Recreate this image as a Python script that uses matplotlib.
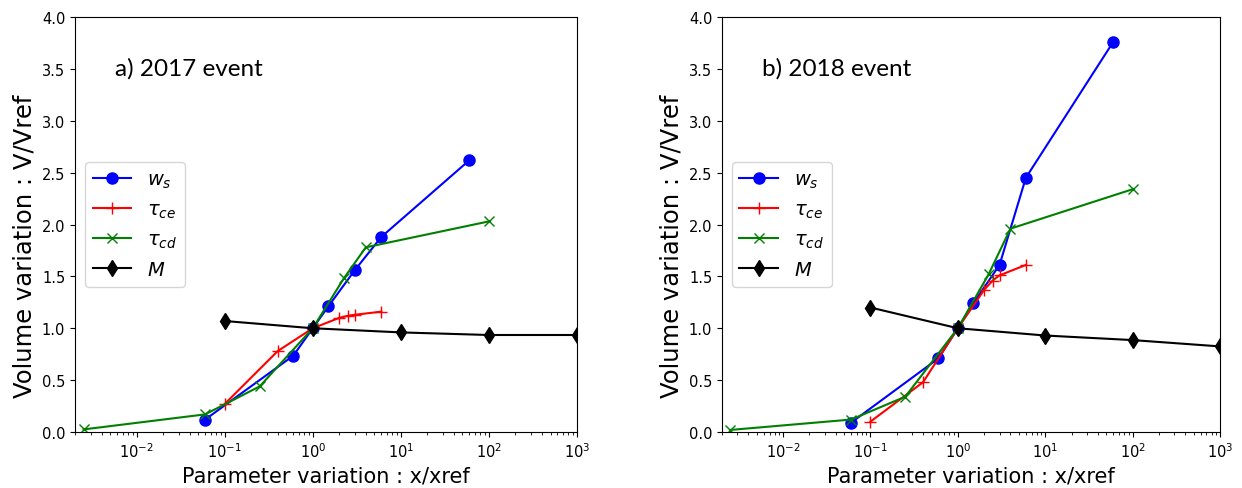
import matplotlib.pyplot as plt

# x/xref values for each parameter
x_ws = [0.06, 0.6, 1, 1.5, 3, 6, 60]
x_tce = [0.1, 0.4, 1, 2, 2.5, 3, 6]
x_tcd = [0.0025, 0.06, 0.25, 1, 2.25, 4, 100]
x_m = [0.1, 1, 10, 100, 1000]

# a) 2017 event
ws_2017 = [0.12, 0.735, 1.0, 1.21, 1.56, 1.88, 2.62]
tce_2017 = [0.27, 0.78, 1.0, 1.10, 1.12, 1.13, 1.16]
tcd_2017 = [0.025, 0.17, 0.44, 1.0, 1.48, 1.78, 2.03]
m_2017 = [1.07, 1.0, 0.96, 0.935, 0.935]

# b) 2018 event
ws_2018 = [0.09, 0.71, 1.0, 1.24, 1.61, 2.45, 3.76]
tce_2018 = [0.10, 0.48, 1.0, 1.37, 1.46, 1.51, 1.61]
tcd_2018 = [0.02, 0.12, 0.34, 1.0, 1.52, 1.96, 2.34]
m_2018 = [1.20, 1.0, 0.93, 0.886, 0.825]

titles = ["a) 2017 event", "b) 2018 event"]

fig = plt.figure(figsize=(12.42, 4.89), dpi=100)
ax1 = fig.add_axes([0.0604, 0.1145, 0.4042, 0.8487])
ax2 = fig.add_axes([0.5813, 0.1145, 0.4010, 0.8487])

panels = [(ax1, ws_2017, tce_2017, tcd_2017, m_2017),
          (ax2, ws_2018, tce_2018, tcd_2018, m_2018)]

for i, (ax, ws, tce, tcd, m) in enumerate(panels):
    ax.plot(x_ws, ws, 'b-o', ms=8, lw=1.5, label=r'$w_s$')
    ax.plot(x_tce, tce, 'r-+', ms=8, lw=1.5, label=r'$\tau_{ce}$')
    ax.plot(x_tcd, tcd, 'g-x', ms=7, lw=1.5, label=r'$\tau_{cd}$')
    ax.plot(x_m, m, 'k-d', ms=8, lw=1.5, label=r'$M$')
    ax.set_xscale('log')
    ax.set_xlim(0.002, 1000)
    ax.set_ylim(0, 4.0)
    ax.tick_params(labelsize=10.5)
    ax.set_xlabel("Parameter variation : x/xref", fontsize=15)
    ax.set_ylabel("Volume variation : V/Vref", fontsize=17.5, y=0.45)
    ax.legend(loc='center left', fontsize=14)
    ax.text(0.08, 0.862, titles[i], transform=ax.transAxes, fontsize=17.5,
            family='Lato')

plt.savefig("out.png", dpi=100)
